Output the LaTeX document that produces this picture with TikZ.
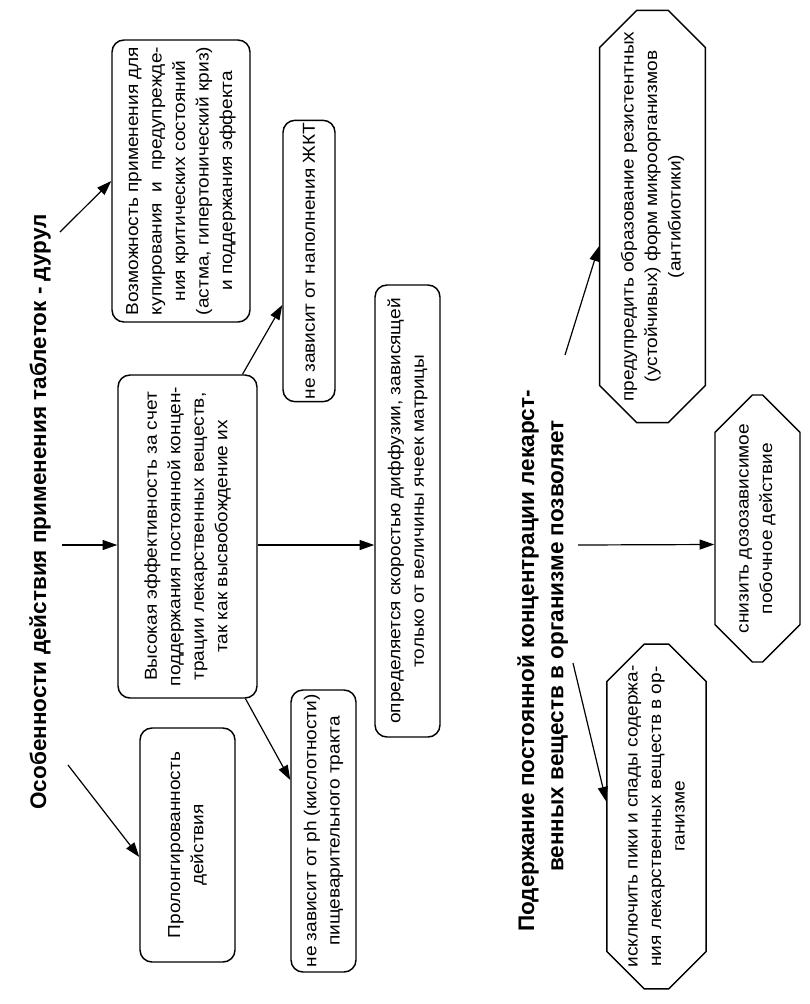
\documentclass[tikz,border=0pt]{standalone}
\usepackage{fontspec}
\setmainfont{Liberation Sans}
\newfontfamily\boxfont{Liberation Sans}[FakeStretch=1.1]
\usetikzlibrary{arrows.meta,shapes.misc,calc}
\begin{document}
\begin{tikzpicture}[x=0.75pt,y=-0.75pt,
  sz/.style n args={2}{minimum width={#1*0.75pt},minimum height={#2*0.75pt}},
  box/.style={draw,line width=1.1pt,rounded corners=9pt,rotate=90,align=center,inner sep=2pt,
    font=\boxfont\fontsize{13}{17.6}\selectfont},
  oct/.style={draw,line width=1.1pt,chamfered rectangle,chamfered rectangle xsep=14pt,
    chamfered rectangle ysep=14pt,rotate=90,align=center,inner sep=2pt,
    font=\boxfont\fontsize{13}{17.6}\selectfont},
  arr/.style={line width=0.9pt,-{Triangle[length=11pt,width=7.5pt]}},
  ttl/.style={rotate=90,font=\bfseries\fontsize{16.9}{22}\selectfont,inner sep=0pt}]
\useasboundingbox (0,0) rectangle (810,1004);
\fill[white] (0,0) rectangle (810,1004);

% titles
\node[ttl] (t1) at (40,512) {Особенности действия применения таблеток - дурул};
\node[ttl,align=left,anchor=north west] (t2) at (517,932)
  {Подержание постоянной концентрации лекарст-\\\hspace*{45pt}венных веществ в организме позволяет};

% boxes
\node[box,sz={282}{138}] (b1) at (181,181)
  {Возможность применения для\\купирования \ и \ предупрежде-\\ния критических состояний\\(астма, гипертонический криз)\\и поддержания эффекта};
\node[box,sz={323}{139}] (b2) at (187.5,536.5)
  {Высокая эффективность за счет\\поддержания постоянной концен-\\трации лекарственных веществ,\\так как высвобождение их};
\node[box,sz={234}{95}] (b3) at (187.5,845)
  {Пролонгированность\\действия};
\node[box,sz={262}{52}] (b4) at (309,261)
  {не зависит от наполнения ЖКТ};
\node[box,sz={282}{65}] (b5) at (323.5,831)
  {не зависит от ph (кислотности)\\пищеварительного тракта};
\node[box,sz={452}{65}] (b6) at (407.5,511)
  {определяется скоростью диффузии, зависящей\\только от величины ячеек матрицы};

% octagons
\node[oct,sz={377}{105}] (o8) at (652.5,216.5)
  {предупредить образование резистентных\\(устойчивых) форм микроорганизмов\\(антибиотики)};
\node[oct,sz={267}{85}] (o9) at (757.5,528.5)
  {снизить дозозависимое\\побочное действие};
\node[oct,sz={337}{97}] (o10) at (656.5,816.5)
  {исключить пики и спады содержа-\\ния лекарственных веществ в ор-\\ганизме};

% connector start points near titles
\coordinate (s1) at (60,232);
\coordinate (s2) at (62,545);
\coordinate (s3) at (68,765);
\coordinate (s4) at (565,355);
\coordinate (s5) at (578,545);
\coordinate (s6) at (573,663);

\draw[arr] (s1) -- (b1.north);
\draw[arr] (s2) -- ($(b2.north)+(0,8.5)$);
\draw[arr] (s3) -- ($(b3.north)+(0,12)$);
\draw[arr] ($(b2.east)+(55,0)$) -- ($(b4.north)+(0,44)$);
\draw[arr] ($(b2.south)+(0,8.5)$) -- ($(b6.north)+(0,34)$);
\draw[arr] ($(b2.west)+(58,0)$) -- ($(b5.north)+(0,-51)$);
\draw[arr] (s4) -- ($(o8.north)+(0,30)$);
\draw[arr] (s5) -- ($(o9.north)+(0,16)$);
\draw[arr] (s6) -- ($(o10.north)+(0,-15)$);
\end{tikzpicture}
\end{document}
